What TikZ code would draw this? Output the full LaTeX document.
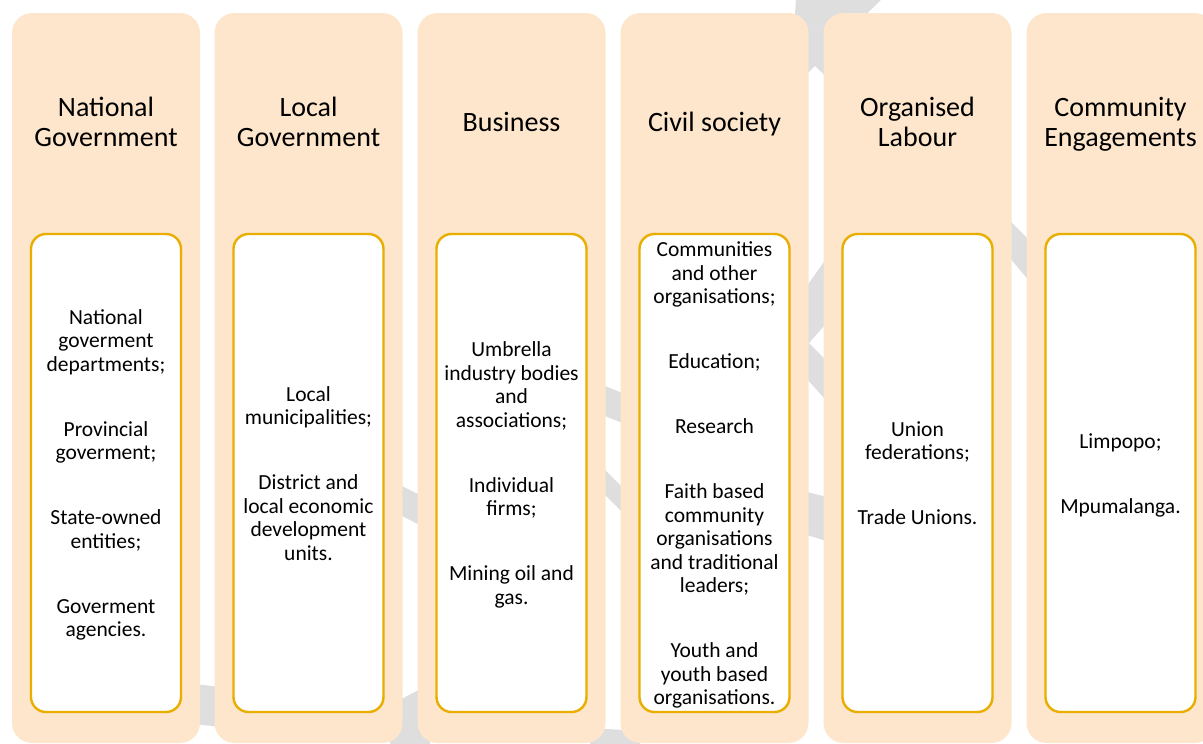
\documentclass[tikz,border=0pt]{standalone}
\usepackage{fontspec}
\setmainfont{Carlito}
\definecolor{peach}{HTML}{FDE6CB}
\definecolor{gold}{HTML}{E9AE00}
\definecolor{bandgrey}{HTML}{DEDEDE}
\begin{document}
\begin{tikzpicture}[x=1pt,y=-1pt,
  column/.style={fill=peach, rounded corners=20pt, minimum width=188pt,
    minimum height=730pt, inner sep=0pt},
  heading/.style={font=\fontsize{28}{30}\selectfont, align=center, text=black},
  itembox/.style={draw=gold, line width=2.4pt, fill=white, rounded corners=15pt,
    minimum width=150pt, minimum height=478pt, inner sep=0pt},
  itemtext/.style={align=center, inner sep=0pt, text=black,
    font=\fontsize{21.5}{23.5}\selectfont},
  band/.style={fill=bandgrey}]
\useasboundingbox (0,0) rectangle (1203,744);

% grey zigzag band running behind the columns
\begin{scope}
  \clip (0,0) rectangle (1203,744);
  \fill[band] (796,-1) -- (882,-1) -- (845,35) -- (840,90) -- (815,66) -- (790,90) -- cycle;
  \fill[band] (770,338) -- (860,211) -- (860,285) -- (809,343) -- (860,395) -- (860,438) -- cycle;
  \fill[band] (990,201) -- (1050,261) -- (1050,306) -- (990,234) -- cycle;
  \fill[band] (790,488) -- (840,500) -- (840,545) -- (790,530) -- cycle;
  \fill[band] (185,683) -- (230,688) -- (230,728) -- (185,723) -- cycle;
  \fill[band] (390,480) -- (430,500) -- (430,530) -- (390,510) -- cycle;
  \fill[band] (390,705) -- (430,684) -- (430,750) -- (390,750) -- cycle;
  \fill[band] (590,380) -- (640,400) -- (640,430) -- (590,410) -- cycle;
  \fill[band] (590,455) -- (640,505) -- (640,530) -- (590,480) -- cycle;
  \fill[band] (590,728) -- (640,731) -- (640,760) -- (590,760) -- cycle;
\end{scope}

% columns
\node[column] (c1) at (106,378) {};
\node[column] (c2) at (308.5,378) {};
\node[column] (c3) at (511.5,378) {};
\node[column] (c4) at (714.5,378) {};
\node[column] (c5) at (917.5,378) {};
\node[column] (c6) at (1120.5,378) {};

% headings (struts keep every heading on the same baseline grid)
\node[heading] (h1) at (106,125) {\strut National\\Government\strut};
\node[heading] (h2) at (308.5,125) {\strut Local\\Government\strut};
\node[heading] (h3) at (511.5,125) {\strut Business\strut};
\node[heading] (h4) at (714.5,125) {\strut Civil society\strut};
\node[heading] (h5) at (917.5,125) {\strut Organised\\Labour\strut};
\node[heading] (h6) at (1120.5,125) {\strut Community\\Engagements\strut};

% member boxes
\node[itembox] (b1) at (106,473) {};
\node[itembox] (b2) at (308.5,473) {};
\node[itembox] (b3) at (511.5,473) {};
\node[itembox] (b4) at (714.5,473) {};
\node[itembox] (b5) at (917.5,473) {};
\node[itembox] (b6) at (1120.5,473) {};

% member lists
\node[itemtext] (p1) at ([yshift=-3pt]b1.center) {\strut National\\goverment\\departments;\\[41.5pt]
  Provincial\\goverment;\\[41.5pt]State-owned\\entities;\\[41.5pt]Goverment\\agencies.\strut};
\node[itemtext] (p2) at ([yshift=-3pt]b2.center) {\strut Local\\municipalities;\\[41.5pt]
  District and\\local economic\\development\\units.\strut};
\node[itemtext] (p3) at ([yshift=-3pt]b3.center) {\strut Umbrella\\industry bodies\\and\\associations;\\[41.5pt]
  Individual\\firms;\\[41.5pt]Mining oil and\\gas.\strut};
\node[itemtext] (p4) at ([yshift=-3pt]b4.center) {\strut Communities\\and other\\organisations;\\[41.5pt]
  Education;\\[41.5pt]Research\\[41.5pt]Faith based\\community\\organisations\\and traditional\\leaders;\\[41.5pt]
  Youth and\\youth based\\organisations.\strut};
\node[itemtext] (p5) at ([yshift=-3pt]b5.center) {\strut Union\\federations;\\[41.5pt]Trade Unions.\strut};
\node[itemtext] (p6) at ([yshift=-3pt]b6.center) {\strut Limpopo;\\[41.5pt]Mpumalanga.\strut};
\end{tikzpicture}
\end{document}
